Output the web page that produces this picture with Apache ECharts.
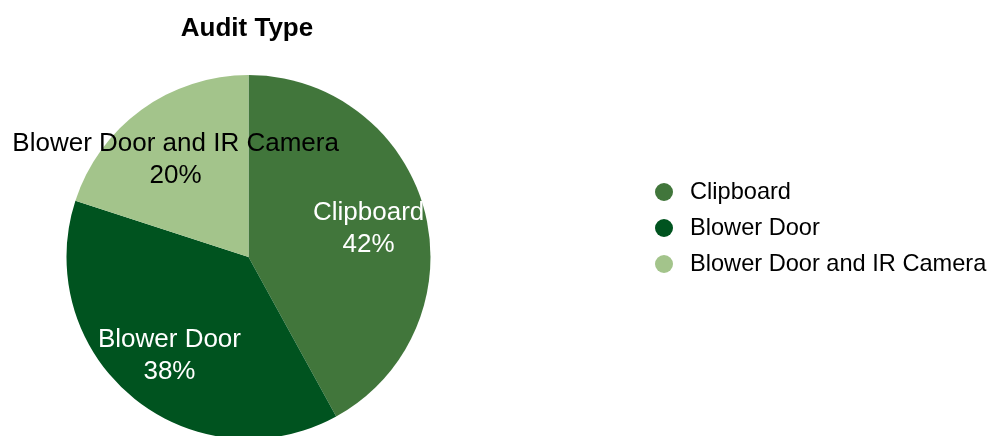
<!DOCTYPE html>
<html>
<head>
<meta charset="utf-8">
<script src="https://cdn.jsdelivr.net/npm/echarts@6/dist/echarts.min.js"></script>
<style>
  html, body { margin: 0; padding: 0; background: #ffffff; }
  #chart { width: 992px; height: 436px; }
</style>
</head>
<body>
<div id="chart"></div>
<script>
// Audit type shares (percent)
const categories = ['Clipboard', 'Blower Door', 'Blower Door and IR Camera'];
const shares = [42, 38, 20];
const sliceColors = ['#41763b', '#00531f', '#a3c48b'];
const labelColors = ['#ffffff', '#ffffff', '#000000'];

const FONT = '"Liberation Sans", Arial, Helvetica, sans-serif';
const CENTER = [248.5, 257];
const RADIUS = 182;

const sliceData = categories.map((name, i) => ({
  name,
  value: shares[i],
  itemStyle: { color: sliceColors[i] }
}));

// Label-only ring so the text sits about two thirds of the way out
const labelData = categories.map((name, i) => ({
  name,
  value: shares[i],
  itemStyle: { color: 'rgba(0,0,0,0)' },
  label: { color: labelColors[i] }
}));

const chart = echarts.init(document.getElementById('chart'), null, { renderer: 'canvas' });

chart.setOption({
  animation: false,
  backgroundColor: '#ffffff',
  title: {
    text: 'Audit Type',
    left: 242,
    top: 11,
    textAlign: 'center',
    textStyle: { fontFamily: FONT, fontSize: 26, fontWeight: 'bold', color: '#000000' }
  },
  legend: {
    orient: 'vertical',
    left: 650,
    top: 175,
    icon: 'circle',
    itemWidth: 18,
    itemHeight: 18,
    itemGap: 12,
    data: categories,
    textStyle: {
      fontFamily: FONT,
      fontSize: 23.6,
      color: '#000000',
      padding: [0, 0, 0, 12]
    }
  },
  series: [
    {
      type: 'pie',
      center: CENTER,
      radius: [0, RADIUS],
      startAngle: 90,
      clockwise: true,
      label: { show: false },
      labelLine: { show: false },
      emphasis: { disabled: true },
      silent: true,
      data: sliceData
    },
    {
      type: 'pie',
      center: CENTER,
      radius: [60, RADIUS],
      startAngle: 90,
      clockwise: true,
      silent: true,
      emphasis: { disabled: true },
      labelLine: { show: false },
      label: {
        show: true,
        position: 'inside',
        fontFamily: FONT,
        fontSize: 26,
        lineHeight: 32,
        align: 'center',
        offset: [0, 3],
        formatter: p => p.name + '\n' + p.value + '%'
      },
      data: labelData
    }
  ]
});
</script>
</body>
</html>
